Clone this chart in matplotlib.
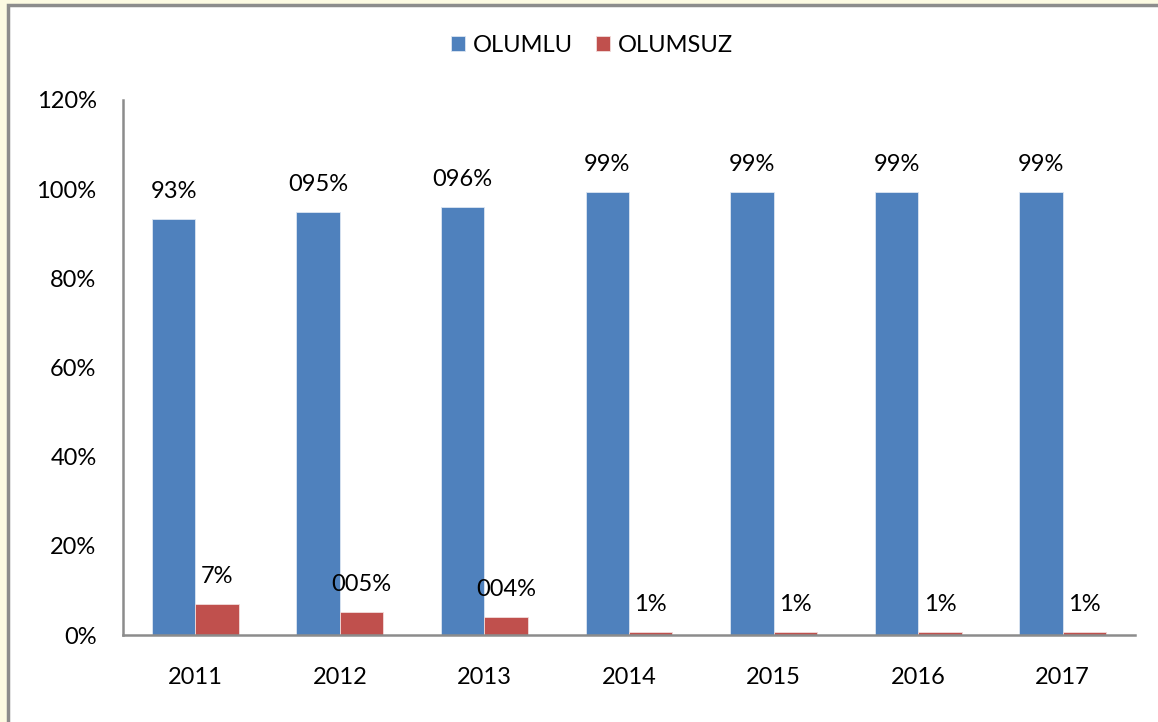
import matplotlib.pyplot as plt
from matplotlib.patches import Rectangle
import numpy as np

years = ['2011', '2012', '2013', '2014', '2015', '2016', '2017']
olumlu = [93.3, 94.9, 96.0, 99.3, 99.3, 99.3, 99.3]
olumsuz = [6.9, 5.1, 4.0, 0.7, 0.7, 0.7, 0.7]
olumlu_labels = ['93%', '095%', '096%', '99%', '99%', '99%', '99%']
olumsuz_labels = ['7%', '005%', '004%', '1%', '1%', '1%', '1%']

plt.rcParams['font.family'] = ['Lato', 'DejaVu Sans']
fs = 17

fig = plt.figure(figsize=(11.58, 7.22), dpi=100, facecolor='#fcfae2')
# white chart area with grey frame
fig.patches.append(Rectangle((8/1158, -0.1), 1.2, (722-5)/722 + 0.1, transform=fig.transFigure,
                             facecolor='white', edgecolor='#8c8c8c', linewidth=2.5, zorder=-5))

ax = fig.add_axes([123/1158, 87/722, 1012/1158, 535/722])
ax.set_facecolor('none')

x = np.arange(len(years))
w = 0.3
b1 = ax.bar(x - w/2, olumlu, w, color='#4f81bd', edgecolor='#dce6f2', linewidth=0.6, label='OLUMLU')
b2 = ax.bar(x + w/2, olumsuz, w, color='#c0504d', edgecolor='#f2dcdb', linewidth=0.6, label='OLUMSUZ')

for xi, v, s in zip(x - w/2, olumlu, olumlu_labels):
    ax.annotate(s, (xi, v), xytext=(0, 20), textcoords='offset points',
                ha='center', va='center', fontsize=fs)
for xi, v, s in zip(x + w/2, olumsuz, olumsuz_labels):
    ax.annotate(s, (xi, v), xytext=(0, 20), textcoords='offset points',
                ha='center', va='center', fontsize=fs)

ax.set_xlim(-0.5, len(years) - 0.5)
ax.set_ylim(0, 120)
ax.set_yticks(range(0, 121, 20))
ax.set_yticklabels([f'{t}%' for t in range(0, 121, 20)], fontsize=fs)
ax.set_xticks(x)
ax.set_xticklabels(years, fontsize=fs)
ax.tick_params(length=0)
ax.tick_params(axis='y', pad=19)
ax.tick_params(axis='x', pad=23)
for s in ['top', 'right']:
    ax.spines[s].set_visible(False)
for s in ['left', 'bottom']:
    ax.spines[s].set_color('#8c8c8c')
    ax.spines[s].set_linewidth(1.8)

fig.legend(handles=[b1, b2], loc='center', bbox_to_anchor=(592/1158, 1 - 45/722), ncol=2,
           frameon=False, handlelength=0.6, handleheight=0.6, handletextpad=0.3, columnspacing=1.0,
           prop={'family': ['Liberation Sans Narrow', 'Lato'], 'size': 17})

fig.savefig('out.png', dpi=100, facecolor=fig.get_facecolor())
